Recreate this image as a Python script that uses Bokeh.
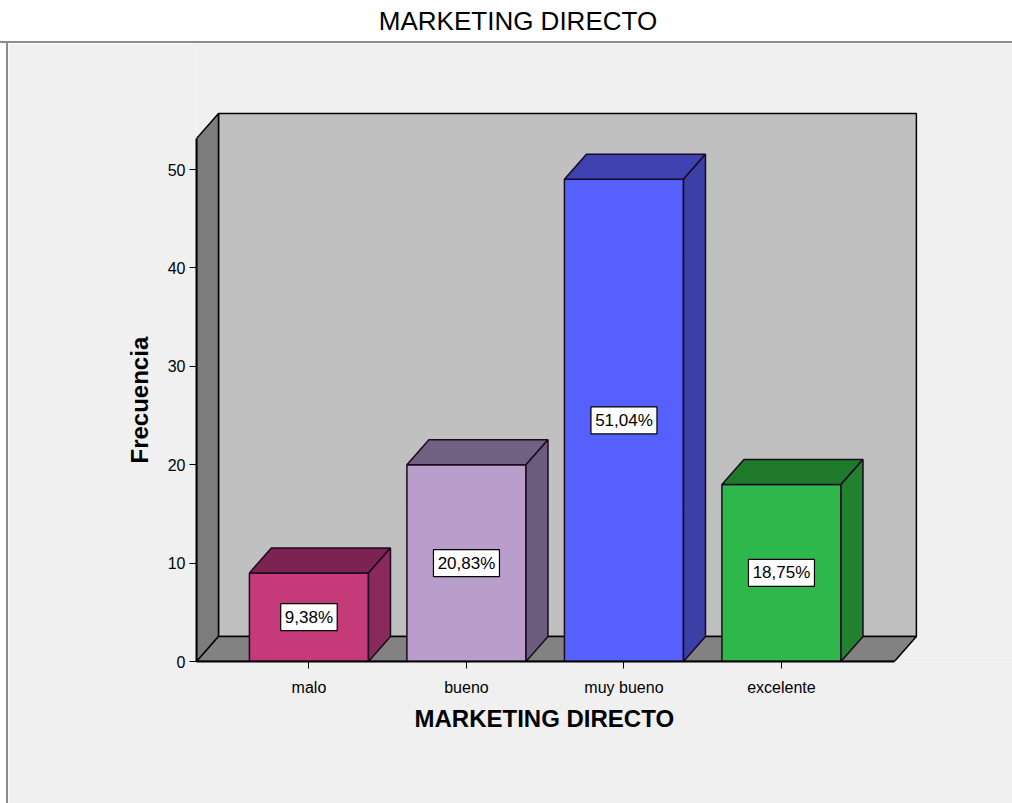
from bokeh.plotting import figure
from bokeh.models import Range1d, FixedTicker, ColumnDataSource, Div, Title
from bokeh.layouts import column, row
from bokeh.embed import file_html
from bokeh.resources import INLINE
from bokeh.core.properties import value

# ---------------- data ----------------
chart_title = "MARKETING DIRECTO"
categories = ["malo", "bueno", "muy bueno", "excelente"]
frequencies = [9, 20, 49, 18]
percent_labels = ["9,38%", "20,83%", "51,04%", "18,75%"]
y_ticks = [0, 10, 20, 30, 40, 50]
x_axis_title = "MARKETING DIRECTO"
y_axis_title = "Frecuencia"

# ---------------- styles ----------------
front_colors = ["#c53a78", "#b99dcb", "#5560fd", "#2eb84b"]
top_colors = ["#7c2352", "#726183", "#3d42b0", "#1f7a2c"]
side_colors = ["#8a2a5c", "#6c5d7e", "#3a40a6", "#22812f"]
BG = "#f0f0f0"
FONT = "Liberation Sans"

PX_X = 157.5          # pixels per category unit
PX_Y = 9.84           # pixels per frequency unit
FRAME_W, FRAME_H = 816, 618
X0 = -0.714           # axis position (left)
XR = 3.717            # right end of floor front edge
Y_WALL = 53.15        # wall height
DX = 22 / PX_X        # depth offset
DY = 25 / PX_Y
HALF = 0.378          # half bar width

p = figure(width=1004, height=760,
           x_range=Range1d(X0, X0 + FRAME_W / PX_X),
           y_range=Range1d(0, FRAME_H / PX_Y),
           output_backend="svg", toolbar_location=None,
           min_border_left=188, min_border_right=0,
           min_border_top=0, min_border_bottom=142, margin=0)
p.grid.visible = False
p.background_fill_color = BG
p.border_fill_color = BG
p.outline_line_color = None

# back wall
p.quad(left=[X0 + DX], right=[XR + DX], bottom=[DY], top=[Y_WALL + DY],
       fill_color="#c0c0c0", line_color="black", line_width=1.5)
# left wall
p.patch([X0, X0, X0 + DX, X0 + DX], [0, Y_WALL, Y_WALL + DY, DY],
        fill_color="#7c7c7c", line_color="black", line_width=1.5)
# floor
p.patch([X0, XR, XR + DX, X0 + DX], [0, 0, DY, DY],
        fill_color="#828282", line_color="black", line_width=1.5)

xs = list(range(len(categories)))
# bars: front faces
p.quad(left=[x - HALF for x in xs], right=[x + HALF for x in xs],
       bottom=0, top=frequencies, fill_color=front_colors,
       line_color="#1a0a20", line_width=1.5)
# top faces
top_x = [[x - HALF, x + HALF, x + HALF + DX, x - HALF + DX] for x in xs]
top_y = [[v, v, v + DY, v + DY] for v in frequencies]
p.patches(top_x, top_y, fill_color=top_colors, line_color="#1a0a20", line_width=1.5)
# side faces
side_x = [[x + HALF, x + HALF, x + HALF + DX, x + HALF + DX] for x in xs]
side_y = [[0, v, v + DY, DY] for v in frequencies]
p.patches(side_x, side_y, fill_color=side_colors, line_color="#1a0a20", line_width=1.5)

# percentage labels (white boxes + text)
src = ColumnDataSource(dict(x=xs, y=[v / 2 for v in frequencies], t=percent_labels,
                            w=[len(t) * 9.5 + 9 for t in percent_labels]))
p.rect(x="x", y="y", width="w", height=27, width_units="screen", height_units="screen",
       source=src, fill_color="white", line_color="black", line_width=1.2)
p.text(x="x", y="y", text="t", source=src, text_align="center", text_baseline="middle",
       text_font=value(FONT), text_font_size="17px", text_color="black")

# axes
ya = p.yaxis[0]
ya.ticker = FixedTicker(ticks=y_ticks)
ya.bounds = (0, Y_WALL)
ya.axis_line_width = 2
ya.major_tick_out = 7
ya.major_tick_in = 0
ya.minor_tick_out = 0
ya.minor_tick_in = 0
ya.major_label_text_font = FONT
ya.major_label_text_font_size = "16px"
ya.major_label_text_color = "black"
ya.major_label_standoff = 4

xa = p.xaxis[0]
xa.ticker = FixedTicker(ticks=xs)
xa.major_label_overrides = {i: c for i, c in enumerate(categories)}
xa.bounds = (X0, XR)
xa.axis_line_width = 2
xa.major_tick_out = 7
xa.major_tick_in = 0
xa.minor_tick_out = 0
xa.minor_tick_in = 0
xa.major_label_text_font = FONT
xa.major_label_text_font_size = "16px"
xa.major_label_text_color = "black"
xa.major_label_standoff = 10

p.add_layout(Title(text=x_axis_title, align="left", offset=218, standoff=8,
                   text_color="black",
                   text_font=FONT, text_font_size="24px", text_font_style="bold"), "below")
p.add_layout(Title(text=y_axis_title, align="left", offset=198, standoff=23,
                   text_color="black",
                   text_font=FONT, text_font_size="24px", text_font_style="bold"), "left")

title = Div(text=chart_title, width=1012, height=43, margin=0,
            styles={"font-family": FONT, "font-size": "26px", "text-align": "center",
                    "line-height": "43px", "color": "black", "background-color": "white",
                    "text-indent": "24px", "border-bottom": "2px solid #8c8c8c",
                    "box-sizing": "border-box"})
left_edge = Div(text="", width=8, height=760, margin=0,
                styles={"background-color": "white", "border-right": "2px solid #8c8c8c",
                        "box-sizing": "border-box"})

layout = column(title, row(left_edge, p, spacing=0), spacing=0)
open("out.html", "w").write(file_html(layout, INLINE))
